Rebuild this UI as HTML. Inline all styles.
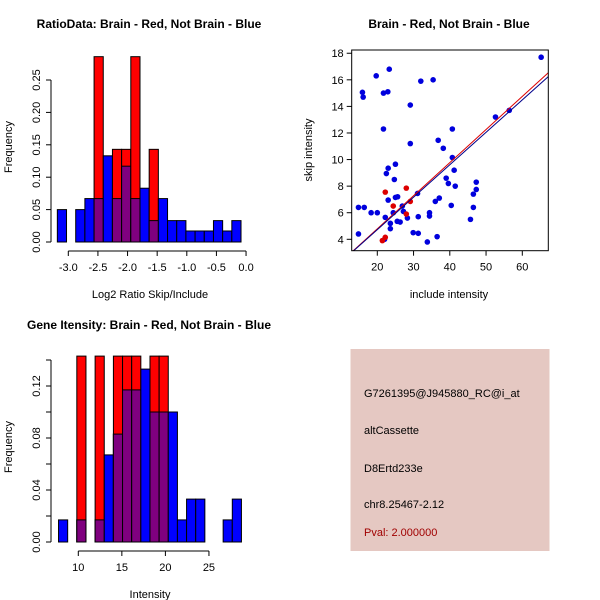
<!DOCTYPE html>
<html><head><meta charset="utf-8"><style>
body{margin:0;background:#fff;}
svg{display:block;font-family:"Liberation Sans",sans-serif;}
</style></head><body>
<svg id="c" width="600" height="600" viewBox="0 0 600 600">
<rect x="350.5" y="349" width="199" height="202" fill="#e5c8c2"/>
<g font-size="11" fill="#000">
<text x="364" y="397">G7261395@J945880_RC@i_at</text>
<text x="364" y="434">altCassette</text>
<text x="364" y="472">D8Ertd233e</text>
<text x="364" y="508">chr8.25467-2.12</text>
<text x="364" y="536" fill="#a00000">Pval: 2.000000</text>
</g>
</svg>
<script>
// ---- Panel 1: ratio histogram ----
const ratioBlue=[0.05,0,0.05,0.067,0.067,0.133,0.067,0.117,0.067,0.083,0.033,0.067,0.033,0.033,0.017,0.017,0.017,0.033,0.017,0.033];
const ratioRed=[0,0,0,0,0.286,0,0.143,0.143,0.286,0,0.143,0,0,0,0,0,0,0,0,0];
const ratioStart=-3.185, ratioBinW=0.155;
const ratioXTicks=[-3.0,-2.5,-2.0,-1.5,-1.0,-0.5,0.0];
const ratioYTicks=[0,0.05,0.10,0.15,0.20,0.25];
// ---- Panel 3: intensity histogram ----
const intBlue=[0.017,0,0.017,0,0.017,0.067,0.083,0.117,0.117,0.133,0.1,0.1,0.1,0.017,0.033,0.033,0,0,0.017,0.033];
const intRed=[0,0,0.143,0,0.143,0,0.143,0.143,0.143,0,0.143,0.143,0,0,0,0,0,0,0,0];
const intStart=7.73, intBinW=1.05;
const intXTicks=[10,15,20,25];
const intYTicks=[0,0.02,0.04,0.06,0.08,0.10,0.12,0.14];
const intYLabels=["0.00","","0.04","","0.08","","0.12",""];
// ---- Panel 2: scatter ----
const blueX=[14.8,14.8,16.4,15.9,16.1,18.3,20,19.7,23.3,21.7,22.9,21.7,29.1,32,35.4,29.1,25,23,22.5,24.7,25,25.6,23,31.1,26.9,27.2,24.4,22.2,25.5,26.3,23.6,23.6,28.3,31.3,34.4,34.4,29.9,31.3,33.8,22,36.5,36,37.1,36.8,38.2,40.7,40.7,41.2,39,39.6,41.5,40.4,45.7,46.5,46.5,47.3,47.3,52.6,56.4,65.2];
const blueY=[4.4,6.4,6.4,15.06,14.7,6.0,6.0,16.3,16.8,15.0,15.1,12.3,14.1,15.9,16.0,11.2,9.65,9.35,8.95,8.5,7.15,7.2,6.95,7.45,6.5,6.1,6.0,5.65,5.35,5.3,5.2,4.8,5.6,5.7,6.0,5.75,4.5,4.45,3.8,4.0,4.2,6.85,7.1,11.45,10.85,12.3,10.15,9.2,8.6,8.2,8.0,6.55,5.5,7.4,6.4,8.3,7.75,13.2,13.7,17.7];
const redX=[22.2,28,24.4,29.1,28,21.4,22.2];
const redY=[7.55,7.85,6.5,6.85,5.9,3.9,4.15];
const fitBlue=[-0.15,0.244]; // intercept, slope
const fitRed=[-0.19,0.249];
const scXTicks=[20,30,40,50,60];
const scYTicks=[4,6,8,10,12,14,16,18];

const svg=document.getElementById('c');
const NS='http://www.w3.org/2000/svg';
function mk(tag,attrs,parent){const e=document.createElementNS(NS,tag);for(const k in attrs)e.setAttribute(k,attrs[k]);(parent||svg).appendChild(e);return e;}
function txt(s,attrs,parent){const e=mk('text',attrs,parent);e.textContent=s;return e;}

function hist(blue,red,start,bw,xs,ys,xTicks,yTicks,yLabels,yFmt,box,title,xlabel,titleX,prefix){
  const g=mk('g',{});
  
  
  const X=v=>box.x0+(v-xs[0])*xs[1];
  const Y=v=>box.y0-v*ys;
  for(let i=0;i<blue.length;i++){
    const a=start+i*bw,b=a+bw,bl=blue[i],rd=red[i];
    if(bl>0){const r=mk('rect',{x:X(a),y:Y(bl),width:X(b)-X(a),height:Y(0)-Y(bl),fill:'#0000ff',stroke:'#000','stroke-width':1},g);
      }
    if(rd>0){const r=mk('rect',{x:X(a),y:Y(rd),width:X(b)-X(a),height:Y(0)-Y(rd),fill:'#ff0000',stroke:'#000','stroke-width':1},g);
      }
    if(bl>0&&rd>0){const m=Math.min(bl,rd);const r=mk('rect',{x:X(a),y:Y(m),width:X(b)-X(a),height:Y(0)-Y(m),fill:'#7f007f',stroke:'#000','stroke-width':1},g);
      }
  }
  const ya=mk('g',{},g);
  mk('line',{x1:box.yAxX,x2:box.yAxX,y1:Y(yTicks[0]),y2:Y(yTicks[yTicks.length-1]),stroke:'#000'},ya);
  yTicks.forEach((t,i)=>{mk('line',{x1:box.yAxX-5,x2:box.yAxX,y1:Y(t),y2:Y(t),stroke:'#000'},ya);
    const lab=yLabels?yLabels[i]:yFmt(t);
    if(lab){const yy=Y(t);txt(lab,{x:box.yAxX-11,y:yy,'font-size':11,'text-anchor':'middle',transform:`rotate(-90 ${box.yAxX-11} ${yy})`},ya);}
  });
  const xa=mk('g',{},g);
  mk('line',{x1:X(xTicks[0]),x2:X(xTicks[xTicks.length-1]),y1:box.xAxY,y2:box.xAxY,stroke:'#000'},xa);
  xTicks.forEach(t=>{mk('line',{x1:X(t),x2:X(t),y1:box.xAxY,y2:box.xAxY+5,stroke:'#000'},xa);
    txt(box.xFmt(t),{x:X(t),y:box.xAxY+20,'font-size':11,'text-anchor':'middle'},xa);});
  const xl=txt(xlabel,{x:box.xlabX,y:box.xlabY,'font-size':11,'text-anchor':'middle'},g);
  
  const yl=txt('Frequency',{x:12,y:box.ylabY,'font-size':11,'text-anchor':'middle',transform:`rotate(-90 12 ${box.ylabY})`},g);
  
  const tl=txt(title,{x:titleX,y:box.titleY,'font-size':12,'font-weight':'bold','text-anchor':'middle'},g);
  
}

hist(ratioBlue,ratioRed,ratioStart,ratioBinW,[-3.0,59.25],648,ratioXTicks,ratioYTicks,null,t=>t.toFixed(2),
  {x0:68.3,y0:242,yAxX:51,xAxY:251,xlabX:150,xlabY:298,ylabY:147,titleY:28,xFmt:t=>t.toFixed(1)},
  'RatioData: Brain - Red, Not Brain - Blue','Log2 Ratio Skip/Include',149,'ratio');
hist(intBlue,intRed,intStart,intBinW,[10,8.71],1300,intXTicks,intYTicks,intYLabels,null,
  {x0:78.3,y0:542,yAxX:51,xAxY:551,xlabX:150,xlabY:598,ylabY:447,titleY:329,xFmt:t=>String(t)},
  'Gene Itensity: Brain - Red, Not Brain - Blue','Intensity',149,'intensity');

(function(){
  const g=mk('g',{});
  
  
  const X=v=>377.3+(v-20)*3.625;
  const Y=v=>239.3-(v-4)*13.29;
  const box={l:351.7,r:548.3,t:50,b:250.7};
  const cp=mk('clipPath',{id:'scClip'},g);
  mk('rect',{x:box.l,y:box.t,width:box.r-box.l,height:box.b-box.t},cp);
  const pts=mk('g',{'clip-path':'url(#scClip)'},g);
  for(let i=0;i<blueX.length;i++){const c=mk('circle',{cx:X(blueX[i]),cy:Y(blueY[i]),r:2.8,fill:'#0000dd'},pts);
    }
  for(let i=0;i<redX.length;i++){const c=mk('circle',{cx:X(redX[i]),cy:Y(redY[i]),r:2.8,fill:'#dd0000'},pts);
    }
  const xa=10,xb=70;
  const lr=mk('line',{x1:X(xa),y1:Y(fitRed[0]+fitRed[1]*xa),x2:X(xb),y2:Y(fitRed[0]+fitRed[1]*xb),stroke:'#dd0000','stroke-width':1},pts);
  
  const lb=mk('line',{x1:X(xa),y1:Y(fitBlue[0]+fitBlue[1]*xa),x2:X(xb),y2:Y(fitBlue[0]+fitBlue[1]*xb),stroke:'#00008b','stroke-width':1},pts);
  
  mk('rect',{x:box.l,y:box.t,width:box.r-box.l,height:box.b-box.t,fill:'none',stroke:'#000'},g);
  const xax=mk('g',{},g);
  scXTicks.forEach(t=>{mk('line',{x1:X(t),x2:X(t),y1:box.b,y2:box.b+5,stroke:'#000'},xax);
    txt(String(t),{x:X(t),y:box.b+20,'font-size':11,'text-anchor':'middle'},xax);});
  const yax=mk('g',{},g);
  scYTicks.forEach(t=>{mk('line',{x1:box.l-5,x2:box.l,y1:Y(t),y2:Y(t),stroke:'#000'},yax);
    txt(String(t),{x:box.l-8,y:Y(t)+4,'font-size':11,'text-anchor':'end'},yax);});
  const xl=txt('include intensity',{x:449,y:298,'font-size':11,'text-anchor':'middle'},g);
  
  const yl=txt('skip intensity',{x:312,y:150,'font-size':11,'text-anchor':'middle',transform:'rotate(-90 312 150)'},g);
  
  const tl=txt('Brain - Red, Not Brain - Blue',{x:449,y:28,'font-size':12,'font-weight':'bold','text-anchor':'middle'},g);
  
})();
</script>
</body></html>
